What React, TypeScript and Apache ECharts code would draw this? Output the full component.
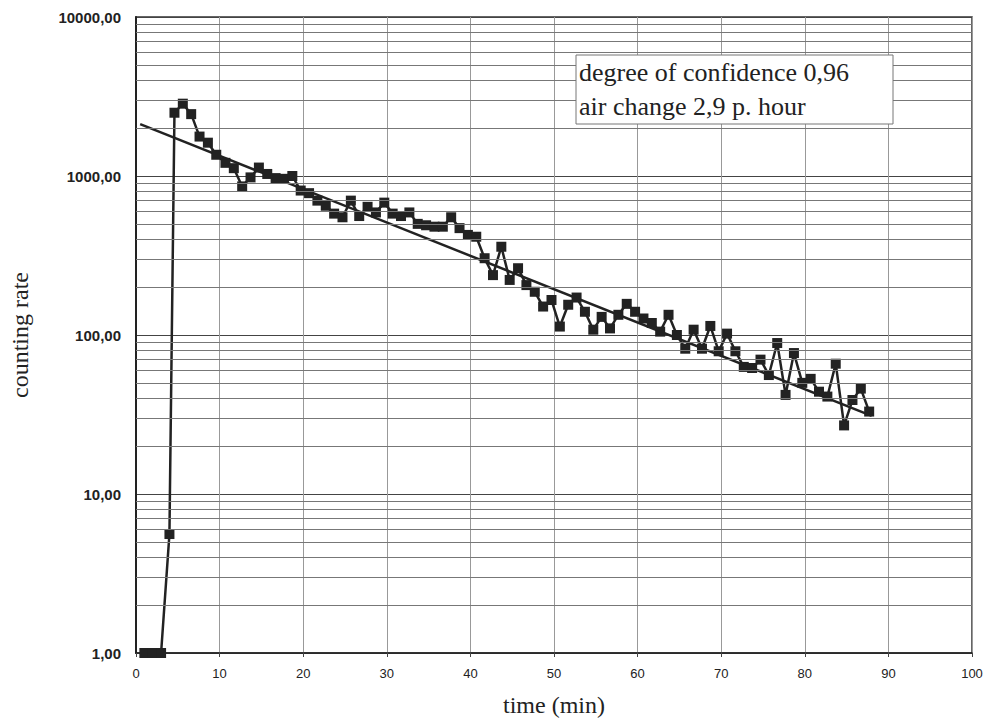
import React, { useEffect, useRef } from "react";
import * as echarts from "echarts";

const times = [
  1, 2, 3, 4, 4.6, 5.6, 6.6, 7.6, 8.6, 9.6, 10.7, 11.7, 12.7, 13.7, 14.7, 15.7,
  16.7, 17.7, 18.7, 19.7, 20.7, 21.7, 22.7, 23.7, 24.7, 25.7, 26.7, 27.7, 28.7,
  29.7, 30.7, 31.7, 32.7, 33.7, 34.7, 35.7, 36.7, 37.7, 38.7, 39.7, 40.7, 41.7,
  42.7, 43.7, 44.7, 45.7, 46.7, 47.7, 48.7, 49.7, 50.7, 51.7, 52.7, 53.7, 54.7,
  55.7, 56.7, 57.7, 58.7, 59.7, 60.7, 61.7, 62.7, 63.7, 64.7, 65.7, 66.7, 67.7,
  68.7, 69.7, 70.7, 71.7, 72.7, 73.7, 74.7, 75.7, 76.7, 77.7, 78.7, 79.7, 80.7,
  81.7, 82.7, 83.7, 84.7, 85.7, 86.7, 87.7,
];

const countingRate = [
  1, 1, 1, 5.6, 2500, 2850, 2450, 1770, 1620, 1360, 1210, 1120, 860, 980, 1130,
  1030, 970, 960, 1000, 810, 780, 700, 650, 580, 550, 700, 560, 640, 590, 680,
  580, 560, 590, 500, 490, 480, 480, 550, 470, 426, 415, 304, 238, 359, 222, 263,
  206, 187, 151, 166, 113, 155, 172, 140, 108, 130, 110, 134, 157, 140, 127, 119,
  105, 134, 100, 82, 108, 82, 114, 79, 102, 79, 63, 62, 70, 56, 89, 42, 77, 50,
  53, 44, 41, 66, 27, 39, 46, 33,
];

const trendTimes = [0.5, 88];
const trendValues = [2120, 31];

const decades = [1, 10, 100, 1000];
const minorFactors = [2, 3, 4, 5, 6, 7, 8, 9];

const infoLines = ["degree of confidence 0,96", "air change 2,9 p. hour"];

export default function App() {
  const ref = useRef<HTMLDivElement>(null);

  useEffect(() => {
    if (!ref.current) return;
    const chart = echarts.init(ref.current, null, { renderer: "svg" });

    const minorLines: any[] = [];
    decades.forEach((d) =>
      minorFactors.forEach((f) => minorLines.push({ yAxis: d * f }))
    );

    const option: any = {
      animation: false,
      backgroundColor: "#ffffff",
      grid: {
        left: 129,
        top: 17,
        right: 32,
        bottom: 69,
        show: true,
        borderColor: "#333",
        borderWidth: 1.5,
        backgroundColor: "transparent",
      },
      xAxis: {
        type: "value",
        min: 0,
        max: 100,
        interval: 10,
        name: "time (min)",
        nameLocation: "middle",
        nameGap: 40,
        nameTextStyle: {
          fontFamily: "Liberation Serif",
          fontSize: 24,
          color: "#222",
        },
        axisLine: { show: true, lineStyle: { color: "#222", width: 1.5 } },
        axisTick: { show: true, length: 4, lineStyle: { color: "#444" } },
        axisLabel: {
          fontFamily: "Liberation Sans",
          fontSize: 13,
          color: "#222",
          margin: 14,
        },
        splitLine: { show: true, lineStyle: { color: "#999", width: 1 } },
      },
      yAxis: {
        type: "log",
        logBase: 10,
        min: 1,
        max: 10000,
        name: "counting rate",
        nameLocation: "middle",
        nameGap: 104,
        nameTextStyle: {
          fontFamily: "Liberation Serif",
          fontSize: 24,
          color: "#222",
        },
        axisLine: { show: true, lineStyle: { color: "#222", width: 2 } },
        axisTick: { show: false },
        axisLabel: {
          fontFamily: "Liberation Sans",
          fontWeight: "bold",
          fontSize: 15,
          color: "#222",
          margin: 15,
          formatter: (v: number) => v.toFixed(2).replace(".", ","),
        },
        splitLine: { show: true, lineStyle: { color: "#444", width: 1 } },
      },
      series: [
        {
          type: "line",
          name: "trend",
          data: trendTimes.map((t, i) => [t, trendValues[i]]),
          showSymbol: false,
          lineStyle: { color: "#222", width: 2.5 },
          z: 2,
          markLine: {
            silent: true,
            symbol: ["none", "none"],
            label: { show: false },
            lineStyle: { color: "#777", width: 1, type: "solid" },
            data: minorLines,
          },
        },
        {
          type: "line",
          name: "counting rate",
          data: times.map((t, i) => [t, countingRate[i]]),
          symbol: "rect",
          symbolSize: 10,
          showAllSymbol: true,
          itemStyle: { color: "#222" },
          lineStyle: { color: "#222", width: 2.5 },
          z: 3,
        },
      ],
      graphic: [
        {
          type: "rect",
          shape: { x: 576, y: 55, width: 317, height: 69 },
          style: { fill: "#fff", stroke: "#777", lineWidth: 1 },
          z: 10,
        },
        {
          type: "text",
          x: 579,
          y: 59,
          style: {
            text: infoLines[0],
            fontFamily: "Liberation Serif",
            fontSize: 26,
            fill: "#222",
          },
          z: 11,
        },
        {
          type: "text",
          x: 579,
          y: 93,
          style: {
            text: infoLines[1],
            fontFamily: "Liberation Serif",
            fontSize: 26,
            fill: "#222",
          },
          z: 11,
        },
      ],
    };

    chart.setOption(option);
    return () => chart.dispose();
  }, []);

  return (
    <div
      ref={ref}
      style={{ position: "fixed", left: 0, top: 0, width: 1004, height: 722 }}
    />
  );
}
